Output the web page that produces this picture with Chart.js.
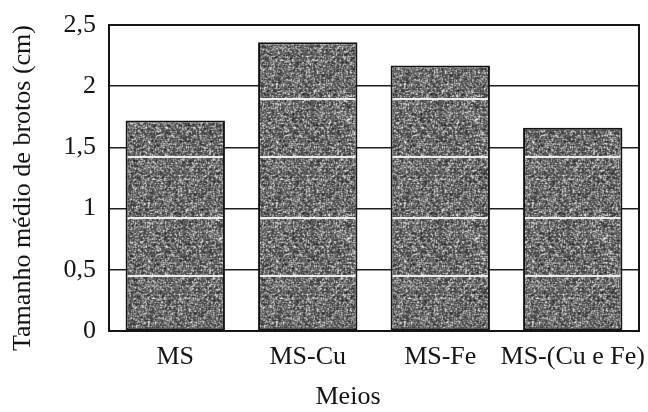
<!DOCTYPE html>
<html>
<head>
<meta charset="utf-8">
<script src="https://cdn.jsdelivr.net/npm/chart.js@4/dist/chart.umd.min.js"></script>
<style>
  html, body { margin: 0; padding: 0; background: #fff; }
  #wrap { width: 648px; height: 412px; position: relative; }
</style>
</head>
<body>
<div id="wrap"><canvas id="c" width="648" height="412"></canvas></div>
<script>
// Mean shoot length per culture medium
const categories = ['MS', 'MS-Cu', 'MS-Fe', 'MS-(Cu e Fe)'];
const shootLength = [1.72, 2.36, 2.17, 1.66];
const yTickLabels = ['0', '0,5', '1', '1,5', '2', '2,5'];
const xTitle = 'Meios';
const yTitle = 'Tamanho médio de brotos (cm)';

const FONT = "'Liberation Serif', 'Times New Roman', serif";
const FONT_SIZE = 26;
const INK = '#141414';

// Stippled grey fill for the bars (deterministic seeded noise with light streaks)
function makeStipple() {
  const w = 128, h = 119;
  const cv = document.createElement('canvas');
  cv.width = w; cv.height = h;
  const g = cv.getContext('2d');
  const img = g.createImageData(w, h);
  let seed = 987654321;
  const rnd = () => { seed = (seed * 1103515245 + 12345) & 0x7fffffff; return seed / 0x7fffffff; };
  const raw = new Float32Array(w * h);
  for (let y = 0; y < h; y++) {
    const rowBias = (y % 4 === 0) ? 18 : (y % 4 === 2 ? -10 : 0);
    for (let x = 0; x < w; x++) {
      const r = rnd();
      const v = r < 0.18 ? 225 : r < 0.45 ? 122 : r < 0.8 ? 80 : 42;
      raw[y * w + x] = v + rowBias;
    }
  }
  const at = (x, y) => raw[((y + h) % h) * w + ((x + w) % w)];
  for (let y = 0; y < h; y++) {
    for (let x = 0; x < w; x++) {
      let v = (4 * at(x, y) + at(x - 1, y) + at(x + 1, y) + at(x, y - 1) + at(x, y + 1)) / 8;
      if (y === 37 || y === 38 || y === 98 || y === 99) v = 236;
      v = Math.max(0, Math.min(255, v));
      const i = (y * w + x) * 4;
      img.data[i] = img.data[i + 1] = img.data[i + 2] = v;
      img.data[i + 3] = 255;
    }
  }
  g.putImageData(img, 0, 0);
  return g.createPattern(cv, 'repeat');
}

const canvas = document.getElementById('c');
const ctx = canvas.getContext('2d');
ctx.letterSpacing = '0.8px';
const stipple = makeStipple();

// Frame around the plotting area plus both axis captions
const framePlugin = {
  id: 'frame',
  afterDatasetsDraw(chart) {
    const { ctx, chartArea: a } = chart;
    ctx.save();
    ctx.strokeStyle = INK;
    ctx.lineWidth = 2;
    ctx.strokeRect(a.left, a.top, a.right - a.left, a.bottom - a.top);
    ctx.restore();
  },
  afterDraw(chart) {
    const { ctx, chartArea: a } = chart;
    ctx.save();
    ctx.fillStyle = INK;
    ctx.font = FONT_SIZE + 'px ' + FONT;
    ctx.textAlign = 'center';
    ctx.textBaseline = 'alphabetic';
    ctx.fillText(xTitle, (a.left + a.right) / 2 - 26, 404);
    ctx.translate(23, (a.top + a.bottom) / 2 + 10);
    ctx.rotate(-Math.PI / 2);
    ctx.textBaseline = 'middle';
    ctx.fillText(yTitle, 0, 0);
    ctx.restore();
  }
};

new Chart(ctx, {
  type: 'bar',
  data: {
    labels: categories,
    datasets: [{
      data: shootLength,
      backgroundColor: stipple,
      borderColor: INK,
      borderWidth: 2,
      borderSkipped: false,
      barPercentage: 0.75,
      categoryPercentage: 1.0
    }]
  },
  options: {
    responsive: false,
    animation: false,
    devicePixelRatio: 1,
    layout: { padding: { top: 25, right: 9, bottom: 0, left: 0 } },
    plugins: { legend: { display: false }, tooltip: { enabled: false } },
    scales: {
      x: {
        grid: { display: false, drawTicks: false },
        border: { display: false },
        ticks: { color: INK, font: { family: FONT, size: FONT_SIZE }, padding: 11, maxRotation: 0, autoSkip: false },
        afterFit(s) { s.height = 81; s.paddingLeft = 0; s.paddingRight = 0; }
      },
      y: {
        min: 0, max: 2.5,
        grid: { color: '#1e1e1e', lineWidth: 1.5, drawTicks: false },
        border: { display: false },
        ticks: {
          stepSize: 0.5, padding: 13, color: INK,
          font: { family: FONT, size: FONT_SIZE },
          callback: (v, i) => yTickLabels[i]
        },
        afterFit(s) { s.width = 109; s.paddingTop = 0; s.paddingBottom = 0; }
      }
    }
  },
  plugins: [framePlugin]
});
</script>
</body>
</html>
